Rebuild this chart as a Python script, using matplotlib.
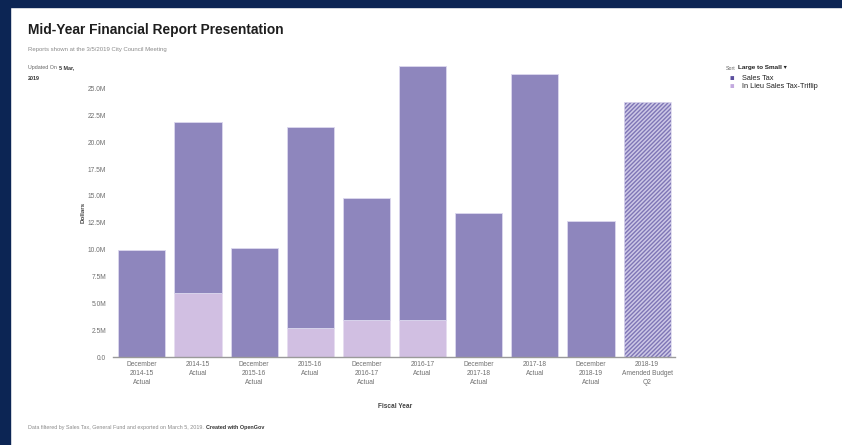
import matplotlib as mpl
mpl.use('Agg')
import matplotlib.pyplot as plt
from matplotlib.patches import Rectangle
import numpy as np

plt.rcParams['font.family'] = ['Liberation Sans', 'DejaVu Sans']
plt.rcParams['hatch.linewidth'] = 1.0

# Sales tax revenue by fiscal period, in millions of dollars
categories = ["December\n2014-15\nActual", "2014-15\nActual",
              "December\n2015-16\nActual", "2015-16\nActual",
              "December\n2016-17\nActual", "2016-17\nActual",
              "December\n2017-18\nActual", "2017-18\nActual",
              "December\n2018-19\nActual", "2018-19\nAmended Budget\nQ2"]
sales_tax = [9.94, 15.87, 10.13, 18.71, 11.31, 23.63, 13.44, 26.30, 12.67, 23.73]
in_lieu = [0.0, 6.00, 0.0, 2.72, 3.47, 3.47, 0.0, 0.0, 0.0, 0.0]
series_names = ["Sales Tax", "In Lieu Sales Tax-Triflip"]
y_ticks = [0, 2.5, 5, 7.5, 10, 12.5, 15, 17.5, 20, 22.5, 25]

SALES_COLOR = '#8e86bd'
LIEU_COLOR = '#d1bfe2'
GRAY = '#6f6f6f'
NAVY = '#0c2554'

W, H = 842, 445
fig = plt.figure(figsize=(W / 100, H / 100), dpi=100)

# page frame
fig.patches.append(Rectangle((0, 0), 10 / W, 1, transform=fig.transFigure,
                             color=NAVY, zorder=0))
fig.patches.append(Rectangle((0, 1 - 7 / H), 1, 7 / H, transform=fig.transFigure,
                             color=NAVY, zorder=0))

ax_left, ax_right = 113, 675
ax_bottom, ax_top = 357.3, 61.4
ax = fig.add_axes([ax_left / W, 1 - ax_bottom / H,
                   (ax_right - ax_left) / W, (ax_bottom - ax_top) / H])

x = np.arange(len(categories))
width = 0.84
for i, label in enumerate(categories):
    budget = 'Budget' in label
    if in_lieu[i] > 0:
        ax.bar(x[i], in_lieu[i], width, color=LIEU_COLOR,
               edgecolor='#e6ddf0', linewidth=0.6)
    if budget:
        ax.bar(x[i], sales_tax[i], width, bottom=in_lieu[i],
               facecolor='#cdc8e6', edgecolor='#7f76b6', hatch='////////',
               linewidth=0)
        ax.bar(x[i], sales_tax[i], width, bottom=in_lieu[i],
               facecolor='none', edgecolor='#dcd8ee', linewidth=0.6)
    else:
        ax.bar(x[i], sales_tax[i], width, bottom=in_lieu[i], color=SALES_COLOR,
               edgecolor='#dcd8ee', linewidth=0.6)

ax.set_xlim(-0.513, 9.495)
ax.set_ylim(0, 27.5)
for s in ['top', 'right', 'left']:
    ax.spines[s].set_visible(False)
ax.spines['bottom'].set_color('#9a9a9a')
ax.spines['bottom'].set_linewidth(1.0)

ax.set_yticks(y_ticks)
ax.set_yticklabels(['0.0'] + ['%.1fM' % v for v in y_ticks[1:]])
ax.set_xticks(x)
ax.set_xticklabels(categories, linespacing=1.35)
ax.tick_params(axis='y', length=0, pad=5, labelsize=4.8, labelcolor=GRAY)
ax.tick_params(axis='x', length=0, pad=3, labelsize=4.8, labelcolor=GRAY)

fig.text(83 / W, 1 - 212 / H, 'Dollars', rotation=90, ha='center', va='center',
         fontsize=4.5, color='#444444', fontweight='bold')
fig.text(395 / W, 1 - 407 / H, 'Fiscal Year', ha='center', va='center',
         fontsize=4.7, color='#444444', fontweight='bold')

# header
fig.text(28 / W, 1 - 30 / H, 'Mid-Year Financial Report Presentation',
         fontsize=9.9, fontweight='bold', color='#1e1e1e', va='center')
fig.text(28 / W, 1 - 50 / H, 'Reports shown at the 3/5/2019 City Council Meeting',
         fontsize=4.3, color='#8a8a8a', va='center')
t = fig.text(28 / W, 1 - 67.5 / H, 'Updated On', fontsize=3.9, color='#666666',
             va='center')
fig.canvas.draw()
bb = t.get_window_extent()
fig.text((bb.x1 + 2) / W, 1 - 67.5 / H, '5 Mar,', fontsize=3.9, color='#333333',
         fontweight='bold', va='center')
fig.text(28 / W, 1 - 78 / H, '2019', fontsize=3.9, color='#333333',
         fontweight='bold', va='center')

# footer
t = fig.text(28 / W, 1 - 428 / H,
             'Data filtered by Sales Tax, General Fund and exported on March 5, 2019.',
             fontsize=3.9, color='#8a8a8a', va='center')
fig.canvas.draw()
bb = t.get_window_extent()
fig.text((bb.x1 + 2) / W, 1 - 428 / H, 'Created with OpenGov', fontsize=3.9,
         color='#333333', fontweight='bold', va='center')

# legend panel
t = fig.text(726 / W, 1 - 68 / H, 'Sort', fontsize=3.8, color='#666666', va='center')
fig.canvas.draw()
bb = t.get_window_extent()
fig.text((bb.x1 + 2) / W, 1 - 68 / H, 'Large to Small \u25be', fontsize=4.6,
         color='#222222', fontweight='bold', va='center')
marker_colors = ['#5b4f9e', '#c3a9df']
for k, (name, mc) in enumerate(zip(series_names, marker_colors)):
    yy = 1 - (78 + 9 * k) / H
    fig.text(732 / W, yy, '\u25fc', fontsize=4, color=mc, va='center', ha='center')
    fig.text(742 / W, yy, name, fontsize=5.3, color='#222222', va='center')

fig.savefig('out.png', dpi=100)
